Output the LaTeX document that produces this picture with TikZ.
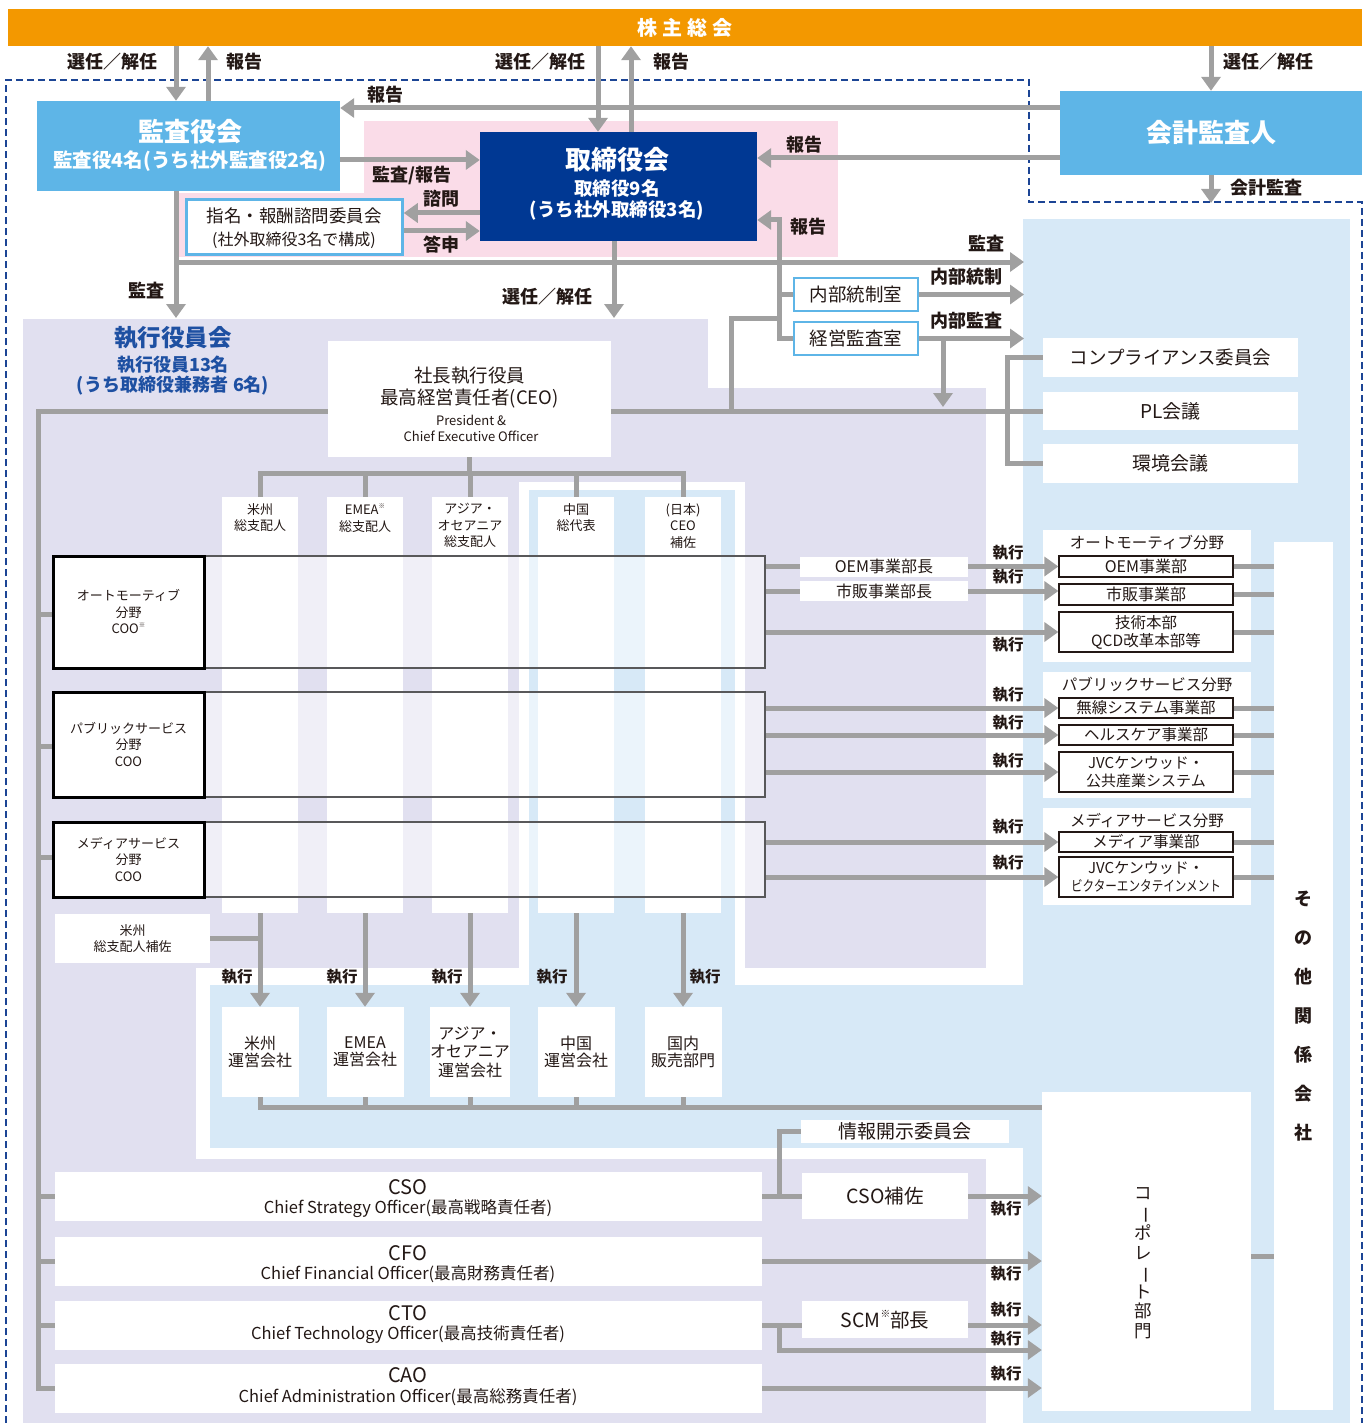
\documentclass[tikz,border=0pt]{standalone}
\usepackage{fontspec}
\usepackage{graphicx}
\setmainfont{Noto Sans CJK JP}
\usetikzlibrary{arrows.meta}
\definecolor{corange}{HTML}{F39800}
\definecolor{cbox}{HTML}{5EB5E7}
\definecolor{cnavy}{HTML}{003893}
\definecolor{cpink}{HTML}{FADCE8}
\definecolor{clav}{HTML}{E1E0F0}
\definecolor{cpale}{HTML}{D7E9F7}
\definecolor{cgray}{HTML}{A0A0A0}
\definecolor{cdash}{HTML}{1C4595}
\definecolor{ctitle}{HTML}{1E50A2}
\definecolor{ctext}{HTML}{231815}
\definecolor{crow}{HTML}{58585A}
\newcommand\fs[2]{\fontsize{#1}{#2}\selectfont}
\newcommand\kome{\raisebox{0.5em}{\scalebox{0.5}{※}}}
\newcommand\vbar{\rotatebox[origin=c]{-90}{ー}}
\begin{document}
\begin{tikzpicture}[x=1pt,y=-1pt,
  every node/.style={inner sep=0pt, text=ctext},
  conn/.style={draw=cgray, line width=5pt},
  arr/.style={conn, -{Triangle[length=14pt,width=19pt]}},
  lab/.style={font=\bfseries\fs{18}{20}},
  ex/.style={font=\bfseries\fs{15.5}{17}},
  wb/.style={fill=white, align=center},
  bluebox/.style={fill=cbox, text=white},
  lbframe/.style={fill=white, draw=cbox, line width=2.5pt, align=center},
  divbox/.style={fill=white, draw=ctext, line width=1.3pt, align=center, minimum width=174pt},
  hdr/.style={font=\fs{13}{16.5}, align=center, anchor=north},
  coo/.style={draw=black, line width=3pt, fill=white, align=center, font=\fs{13}{16.5}, minimum width=151pt},
  rowbox/.style={draw=crow, line width=2pt, fill=white, fill opacity=0.5, minimum width=712pt},
  grp/.style={fill=white, minimum width=208pt},
  exbox/.style={fill=white, minimum width=707pt, minimum height=49pt, align=center},
]
\useasboundingbox (0,0) rectangle (1368,1423);
\fill[white] (0,0) rectangle (1368,1423);
% ---------- backgrounds ----------
\fill[cpale] (1023,219) rectangle (1350,1423);
\fill[clav] (23,319) rectangle (986,1423);
\fill[white] (708,319) rectangle (1023,388);
\fill[white] (986,319) rectangle (1023,1423);
\fill[white] (196,968) rectangle (1023,1159);
\fill[white] (519,482) rectangle (745,985);
\fill[cpale] (529,490) rectangle (735,1148);
\fill[cpale] (210,985) rectangle (1023,1148);
\fill[cpink] (364,121) rectangle (838,257);
\fill[cpink] (178,193) rectangle (364,257);
\draw[cdash, line width=2pt, dash pattern=on 7pt off 4pt]
  (6,1423) -- (6,80) -- (1029,80) -- (1029,202) -- (1362,202) -- (1362,1423);

% ---------- top level boxes ----------
\node[fill=corange, minimum width=1354pt, minimum height=37pt, text=white,
      font=\bfseries\fs{20}{22}] (sh) at (685,27.5) {株\hspace{5pt}主\hspace{5pt}総\hspace{5pt}会};
\node[bluebox, minimum width=303pt, minimum height=90pt] (ka) at (188.5,146) {};
\node[text=white, font=\bfseries\fs{26}{28}] (kat) at (190,132) {監査役会};
\node[text=white, font=\bfseries\fs{19.5}{21}] (kas) at (190,161) {監査役4名(うち社外監査役2名)};
\node[fill=cnavy, minimum width=277pt, minimum height=109pt] (tb) at (618.5,186.5) {};
\node[text=white, font=\bfseries\fs{26}{28}] (tbt) at (617,160) {取締役会};
\node[text=white, font=\bfseries\fs{18.5}{21}] (tbs1) at (617,188) {取締役9名};
\node[text=white, font=\bfseries\fs{18.5}{21}] (tbs2) at (617,210) {(うち社外取締役3名)};
\node[bluebox, minimum width=302pt, minimum height=84pt, font=\bfseries\fs{26}{28}] (kk) at (1211,133) {会計監査人};
\node[lbframe, minimum width=216pt, minimum height=55pt] (nm) at (294.5,227) {};
\node[font=\fs{17.5}{20}] (nmt) at (294,216) {指名・報酬諮問委員会};
\node[font=\fs{16}{18}] (nms) at (294,240) {(社外取締役3名で構成)};
\node[lbframe, minimum width=124pt, minimum height=33pt, font=\fs{18.5}{20}] (ns) at (856,294.5) {内部統制室};
\node[lbframe, minimum width=124pt, minimum height=33pt, font=\fs{18.5}{20}] (kz) at (856,338.5) {経営監査室};

% ---------- right committees ----------
\node[wb, minimum width=255pt, minimum height=39pt, font=\fs{18.5}{20}] (comp) at (1170.5,357.5) {コンプライアンス委員会};
\node[wb, minimum width=255pt, minimum height=38pt, font=\fs{19}{20}] (pl) at (1170.5,411) {PL会議};
\node[wb, minimum width=255pt, minimum height=39pt, font=\fs{19}{20}] (env) at (1170.5,463.5) {環境会議};

% ---------- executive committee ----------
\node[font=\bfseries\fs{23.5}{26}, text=ctitle] (et1) at (173,338) {執行役員会};
\node[font=\bfseries\fs{18}{20}, text=ctitle] (et2) at (173,365) {執行役員13名};
\node[font=\bfseries\fs{18}{20}, text=ctitle] (et3) at (173,385.5) {(うち取締役兼務者\hspace{5pt}6名)};
\node[wb, minimum width=283pt, minimum height=116pt] (ceo) at (469.5,399) {};
\node[font=\fs{18.5}{22}, align=center] (ceot) at (469.5,388) {社長執行役員\\最高経営責任者(CEO)};
\node[font=\fs{13}{16}, align=center] (ceoe) at (471,428.5) {President \&\\Chief Executive Officer};

% columns
\foreach \i/\cx in {1/260,2/365,3/470,4/576,5/683}{
  \node[fill=white, minimum width=76pt, minimum height=416pt] (col\i) at (\cx,705) {};
}
\node[hdr] (h1) at (260,503) {米州\\総支配人};
\node[hdr] (h2) at (365,503) {EMEA\kome\\総支配人};
\node[hdr] (h3) at (470,503) {アジア・\\オセアニア\\総支配人};
\node[hdr] (h4) at (576,503) {中国\\総代表};
\node[hdr] (h5) at (683,503) {(日本)\\CEO\\補佐};

% COO rows
\node[rowbox, minimum height=112pt] (row1) at (409,612) {};
\node[rowbox, minimum height=105pt] (row2) at (409,744.5) {};
\node[rowbox, minimum height=75pt] (row3) at (409,859.5) {};
\node[coo, minimum height=112pt] (c1) at (128.5,612) {オートモーティブ\\分野\\COO\kome};
\node[coo, minimum height=105pt] (c2) at (128.5,744.5) {パブリックサービス\\分野\\COO};
\node[coo, minimum height=75pt] (c3) at (128.5,859.5) {メディアサービス\\分野\\COO};

\node[wb, minimum width=155pt, minimum height=49pt, font=\fs{13}{16}] (hosa) at (132.5,938.5) {米州\\総支配人補佐};

% operating companies
\node[wb, minimum width=77pt, minimum height=90pt, font=\fs{16}{17.5}] (u1) at (260,1052) {米州\\運営会社};
\node[wb, minimum width=77pt, minimum height=90pt, font=\fs{16}{17.5}] (u2) at (365,1052) {EMEA\\運営会社};
\node[wb, minimum width=77pt, minimum height=90pt, font=\fs{16}{18.5}] (u3) at (470,1052) {アジア・\\オセアニア\\運営会社};
\node[wb, minimum width=77pt, minimum height=90pt, font=\fs{16}{17.5}] (u4) at (576,1052) {中国\\運営会社};
\node[wb, minimum width=77pt, minimum height=90pt, font=\fs{16}{17.5}] (u5) at (683,1052) {国内\\販売部門};

% division groups
\node[grp, minimum height=132pt] (g1) at (1147,596) {};
\node[font=\fs{15.5}{17}] (g1t) at (1147,543) {オートモーティブ分野};
\node[divbox, minimum height=21pt, font=\fs{16}{17}] (b1) at (1146,566.5) {OEM事業部};
\node[divbox, minimum height=21pt, font=\fs{16}{17}] (b2) at (1146,594.5) {市販事業部};
\node[divbox, minimum height=40pt, font=\fs{15.5}{18}] (b3) at (1146,632) {技術本部\\QCD改革本部等};
\node[grp, minimum height=126pt] (g2) at (1147,735) {};
\node[font=\fs{15.5}{17}] (g2t) at (1147,685) {パブリックサービス分野};
\node[divbox, minimum height=20pt, font=\fs{15.5}{17}] (b4) at (1146,708) {無線システム事業部};
\node[divbox, minimum height=20pt, font=\fs{15.5}{17}] (b5) at (1146,735) {ヘルスケア事業部};
\node[divbox, minimum height=40pt, font=\fs{15}{18}] (b6) at (1146,772) {JVCケンウッド・\\公共産業システム};
\node[grp, minimum height=97pt] (g3) at (1147,856.5) {};
\node[font=\fs{15.5}{17}] (g3t) at (1147,821) {メディアサービス分野};
\node[divbox, minimum height=20pt, font=\fs{15.5}{17}] (b7) at (1146,842) {メディア事業部};
\node[divbox, minimum height=40pt, font=\fs{15}{18}] (b8) at (1146,877) {JVCケンウッド・\\\scalebox{0.8}[1]{\fs{14.5}{16}ビクターエンタテインメント}};

\node[wb, minimum width=168pt, minimum height=20pt, font=\fs{16}{17}] (oemh) at (884,566.5) {OEM事業部長};
\node[wb, minimum width=168pt, minimum height=20pt, font=\fs{16}{17}] (shh) at (884,591) {市販事業部長};

% other affiliates & corporate
\node[wb, minimum width=59pt, minimum height=868pt] (sonota) at (1303.5,976) {};
\node[font=\bfseries\fs{18}{39}, align=center] (sonotat) at (1303,1016) {そ\\の\\他\\関\\係\\会\\社};
\node[wb, minimum width=209pt, minimum height=319pt] (corp) at (1146.5,1251.5) {};
\node[font=\fs{17.5}{19.5}, align=center] (corpt) at (1143,1263) {コ\\\vbar\\ポ\\レ\\\vbar\\ト\\部\\門};

% chief officers
\node[exbox] (cso) at (408.5,1196) {};
\node[font=\fs{20}{22}] (csot1) at (408,1187) {CSO};
\node[font=\fs{16.5}{18}] (csot2) at (408,1209) {Chief Strategy Officer(最高戦略責任者)};
\node[exbox] (cfo) at (408.5,1261) {};
\node[font=\fs{20}{22}] (cfot1) at (408,1253) {CFO};
\node[font=\fs{16.5}{18}] (cfot2) at (408,1274) {Chief Financial Officer(最高財務責任者)};
\node[exbox] (cto) at (408.5,1325) {};
\node[font=\fs{20}{22}] (ctot1) at (408,1313) {CTO};
\node[font=\fs{16.5}{18}] (ctot2) at (408,1335) {Chief Technology Officer(最高技術責任者)};
\node[exbox] (cao) at (408.5,1388) {};
\node[font=\fs{20}{22}] (caot1) at (408,1375) {CAO};
\node[font=\fs{16.5}{18}] (caot2) at (408,1397) {Chief Administration Officer(最高総務責任者)};
\node[wb, minimum width=208pt, minimum height=23pt, font=\fs{19}{20}] (jh) at (905,1131.5) {情報開示委員会};
\node[wb, minimum width=166pt, minimum height=46pt, font=\fs{19.5}{21}] (csoh) at (885,1196) {CSO補佐};
\node[wb, minimum width=166pt, minimum height=37pt, font=\fs{19.5}{21}] (scm) at (885,1319.5) {SCM\kome 部長};

% ---------- connectors: governance ----------
\draw[arr] (sh.south -| 176,0) -- (ka.north -| 176,0);
\draw[arr] (ka.north -| 208,0) -- (sh.south -| 208,0);
\draw[arr] (sh.south -| 598,0) -- (tb.north -| 598,0);
\draw[arr] (tb.north -| 631,0) -- (sh.south -| 631,0);
\draw[arr] (sh.south -| kk.north) -- (kk.north);
\draw[arr] (kk.west |- 0,108) -- (ka.east |- 0,108);
\draw[arr] (kk.west |- 0,158) -- (tb.east |- 0,158);
\coordinate (kkd) at (1211,203);
\draw[arr] (kk.south) -- (kkd);
\draw[arr] (ka.east |- 0,160) -- (tb.west |- 0,160);
\draw[arr] (tb.west |- 0,213) -- (nm.east |- 0,213);
\draw[arr] (nm.east |- 0,231) -- (tb.west |- 0,231);
\coordinate (exa) at (176,318);
\coordinate (exb) at (614,318);
\coordinate (rz1) at (1024,262);
\draw[arr] (ka.south -| exa) -- (exa);
\draw[arr] (exa |- rz1) -- (rz1);
\draw[arr] (tb.south -| exb) -- (exb);
\draw[arr] (kz.west) -- (kz.west -| 779,0) -- (779,220) -- (tb.east |- 0,220);
\draw[conn] (ns.west) -- (ns.west -| 779,0);
\draw[conn] (731,411) -- (731,318) -- (779,318);
\draw[arr] (ns.east) -- (ns.east -| rz1);
\draw[arr] (kz.east) -- (kz.east -| rz1);
\draw[arr] (kz.east -| 943,0) -- (943,407);

% ---------- connectors: executive ----------
\draw[conn] (ceo.west |- 0,411) -- (38,411) -- (38,1388) -- (cao.west);
\draw[conn] (ceo.east |- 0,411) -- (pl.west);
\draw[conn] (comp.west) -- (comp.west -| 1007,0) -- (env.west -| 1007,0) -- (env.west);
\foreach \n/\yy in {c1/614,c2/746,c3/857}{
  \draw[conn] (38,\yy) -- (\n.west |- 0,\yy);
}
\foreach \n in {cso,cfo,cto}{
  \draw[conn] (\n.west -| 38,0) -- (\n.west);
}
\draw[conn] (ceo.south) -- (ceo.south |- 0,473);
\draw[conn] (col1.north) -- (col1.north |- 0,473) -- (col5.north |- 0,473) -- (col5.north);
\foreach \i in {2,3,4}{
  \draw[conn] (col\i.north) -- (col\i.north |- 0,473);
}
\foreach \i in {1,...,5}{
  \draw[arr] (col\i.south) -- (u\i.north);
}
\draw[conn] (hosa.east) -- (hosa.east -| col1.south);
\draw[conn] (u1.south) -- (u1.south |- 0,1107) -- (corp.west |- 0,1107);
\foreach \i in {2,...,5}{
  \draw[conn] (u\i.south) -- (u\i.south |- 0,1107);
}
% rows to divisions
\draw[conn] (row1.east |- oemh.west) -- (oemh.west);
\draw[arr] (oemh.east) -- (oemh.east -| b1.west);
\draw[conn] (row1.east |- shh.west) -- (shh.west);
\draw[arr] (shh.east) -- (shh.east -| b2.west);
\draw[arr] (row1.east |- b3.west) -- (b3.west);
\draw[arr] (row2.east |- b4.west) -- (b4.west);
\draw[arr] (row2.east |- b5.west) -- (b5.west);
\draw[arr] (row2.east |- b6.west) -- (b6.west);
\draw[arr] (row3.east |- b7.west) -- (b7.west);
\draw[arr] (row3.east |- b8.west) -- (b8.west);
\foreach \i in {1,...,8}{
  \draw[conn] (b\i.east) -- (b\i.east -| sonota.west);
}
\draw[conn] (corp.east |- 0,1256) -- (sonota.west |- 0,1256);
% chief officers to corporate
\draw[conn] (cso.east) -- (csoh.west);
\draw[conn] (cso.east -| 779,0) -- (jh.west -| 779,0) -- (jh.west);
\draw[arr] (csoh.east) -- (csoh.east -| corp.west);
\draw[arr] (cfo.east) -- (cfo.east -| corp.west);
\draw[conn] (cto.east) -- (cto.east -| scm.west);
\draw[arr] (cto.east -| scm.east) -- (cto.east -| corp.west);
\draw[arr] (cto.east -| 779,0) -- (779,1350) -- (corp.west |- 0,1350);
\draw[arr] (cao.east) -- (cao.east -| corp.west);

% ---------- labels ----------
\node[lab] (l1) at (112,62) {選任／解任};
\node[lab] (l2) at (244,62) {報告};
\node[lab] (l3) at (540,62) {選任／解任};
\node[lab] (l4) at (671,62) {報告};
\node[lab] (l5) at (1268,62) {選任／解任};
\node[lab] (l6) at (385,95) {報告};
\node[lab] (l7) at (804,145) {報告};
\node[lab] (l8) at (1266,188) {会計監査};
\node[lab] (l9) at (412,175) {監査/報告};
\node[lab] (l10) at (441,199) {諮問};
\node[lab] (l11) at (441,245) {答申};
\node[lab] (l12) at (146,291) {監査};
\node[lab] (l13) at (547,297) {選任／解任};
\node[lab] (l14) at (808,227) {報告};
\node[lab] (l15) at (986,244) {監査};
\node[lab] (l16) at (966,277) {内部統制};
\node[lab] (l17) at (966,321) {内部監査};
\foreach \xx/\yy in {1008/553,1008/577,1008/645,1008/695,1008/723,1008/761,1008/827,1008/863,
  237/977,342/977,447/977,552/977,705/977,
  1006/1209,1006/1274,1006/1310,1006/1339,1006/1374}{
  \node[ex] at (\xx,\yy) {執行};
}
\end{tikzpicture}
\end{document}
